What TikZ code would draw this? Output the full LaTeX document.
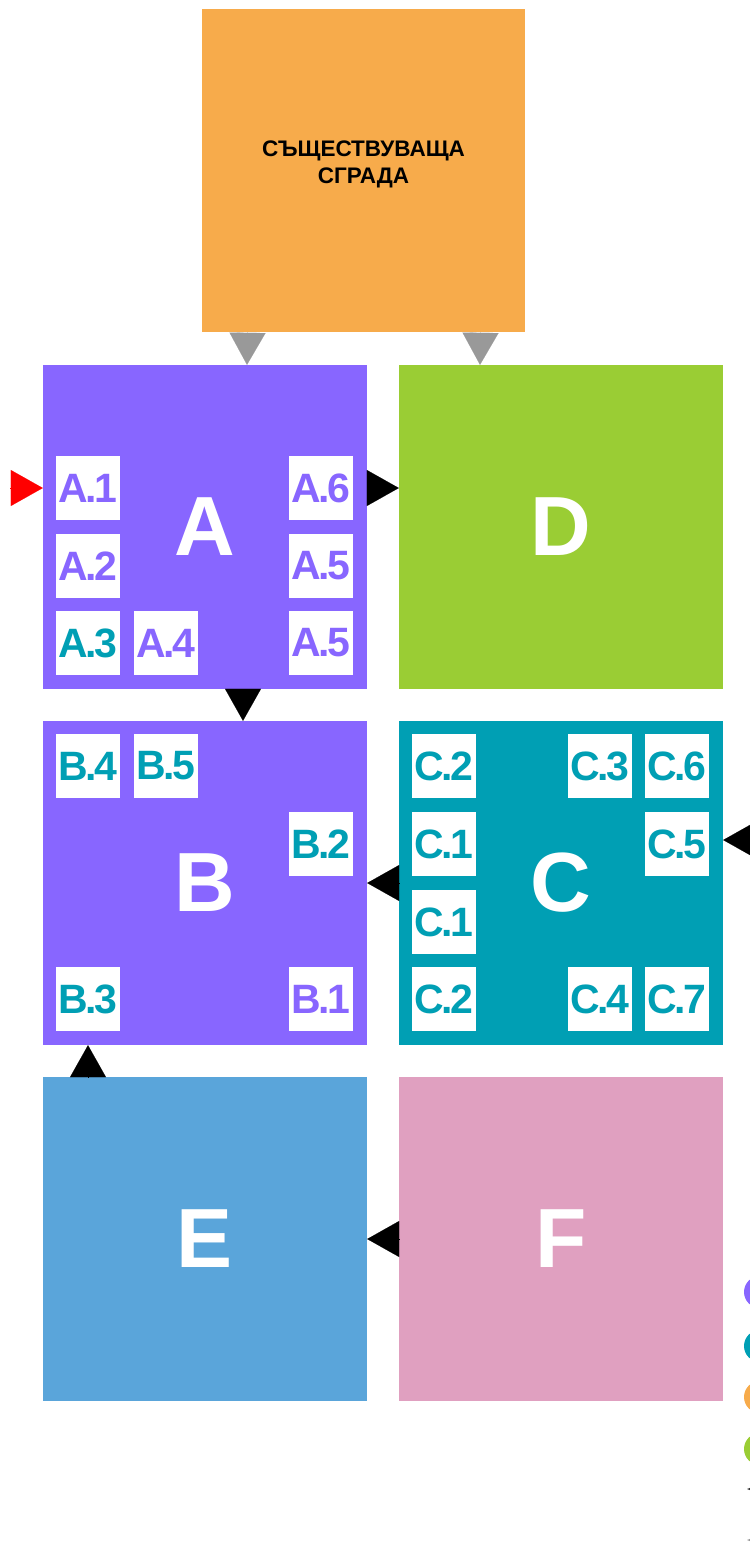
\documentclass[tikz,border=0pt]{standalone}
\usepackage{fontspec}
\setmainfont{Liberation Sans}
\usetikzlibrary{arrows.meta}
\definecolor{vio}{HTML}{8866FF}
\definecolor{tea}{HTML}{009FB4}
\definecolor{orng}{HTML}{F7AB4B}
\definecolor{grn}{HTML}{9ACD34}
\definecolor{blu}{HTML}{5AA5DA}
\definecolor{pnk}{HTML}{E0A0C0}
\definecolor{gry}{HTML}{999999}
\newcommand{\lab}[2]{#1\kern-.06em.\kern-.07em#2}

\begin{document}
\begin{tikzpicture}[x=1pt,y=-1pt,
	zone/.style={minimum size=324pt, inner sep=0pt, text=white, font=\fontsize{84}{84}\selectfont\bfseries},
	sub/.style={fill=white, minimum size=64pt, inner sep=0pt, font=\fontsize{41}{41}\selectfont\bfseries},
	tri/.style={line width=0.1pt, -{Triangle[length=32pt,width=36pt]}}]
	\useasboundingbox (0,0) rectangle (750,1567);
	\clip (0,0) rectangle (750,1567);
	% existing building
	\node[fill=orng, minimum size=323pt, inner sep=0pt] (S) at (363.5,170.5) {};
	\node[align=center, font=\fontsize{22.5}{27}\selectfont\bfseries] (Stxt) at (363.5,164) {СЪЩЕСТВУВАЩА\\СГРАДА};
	% zones
	\node[zone, fill=vio] (A) at (205,527) {A};
	\node[zone, fill=grn] (D) at (561,527) {D};
	\node[zone, fill=vio] (B) at (205,883) {B};
	\node[zone, fill=tea] (C) at (561,883) {C};
	\node[zone, fill=blu] (E) at (205,1239) {E};
	\node[zone, fill=pnk] (F) at (561,1239) {F};
	% sub-zones
	\foreach \nm/\l/\d/\px/\py/\col in {A1/A/1/88/488/vio, A2/A/2/88/566/vio, A3/A/3/88/643/tea,
		A4/A/4/166/643/vio, A6/A/6/321/488/vio, A5/A/5/321/566/vio, A5b/A/5/321/643/vio,
		B4/B/4/88/766/tea, B5/B/5/166/766/tea, B2/B/2/321/844/tea, B3/B/3/88/999/tea, B1/B/1/321/999/vio,
		C2/C/2/444/766/tea, C3/C/3/600/766/tea, C6/C/6/677/766/tea, C1/C/1/444/844/tea,
		C5/C/5/677/844/tea, C1b/C/1/444/922/tea, C2b/C/2/444/999/tea, C4/C/4/600/999/tea, C7/C/7/677/999/tea}
		\node[sub, text=\col] (\nm) at (\px,\py) {\lab{\l}{\d}};
	% flows
	\coordinate (entry) at (10,488);
	\coordinate (cin) at (756,840);
	\draw[tri, red] (entry) -- (A.west |- A1);
	\draw[tri, gry] ([xshift=-116pt]S.south) -- ([xshift=42pt]A.north);
	\draw[tri, gry] ([xshift=117pt]S.south) -- ([xshift=-81pt]D.north);
	\draw[tri] (A.east |- A6) -- (D.west |- A6);
	\draw[tri] ([xshift=38pt]A.south) -- ([xshift=38pt]B.north);
	\draw[tri] (C.west) -- (B.east);
	\draw[tri] (cin) -- (C.east |- cin);
	\draw[tri] (E.north -| B3) -- (B.south -| B3);
	\draw[tri] (F.west) -- (E.east);
	% legend (cut off)
	\fill[vio] (760,1292) circle (16);
	\fill[tea] (760,1346) circle (16);
	\fill[orng] (760,1397) circle (16);
	\fill[grn] (760,1449) circle (16);
	\fill[black!80] (747,1489) -- (760,1484) -- (760,1494) -- cycle;
	\fill[black!40] (747,1540) -- (760,1535) -- (760,1545) -- cycle;
\end{tikzpicture}
\end{document}
